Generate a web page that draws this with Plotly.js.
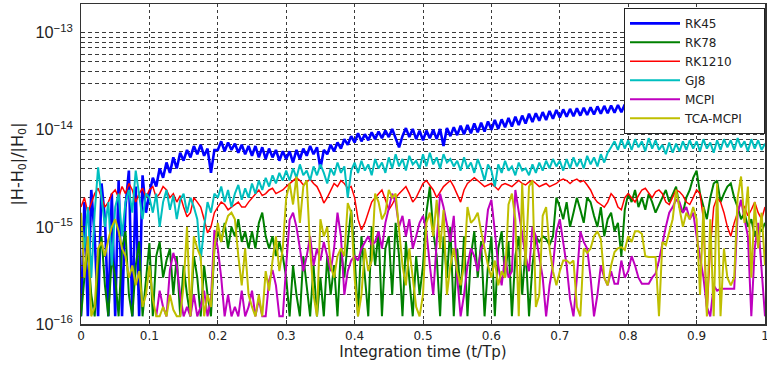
<!DOCTYPE html>
<html>
<head>
<meta charset="utf-8">
<script src="https://cdn.plot.ly/plotly-3.0.1.min.js"></script>
<style>html,body{margin:0;padding:0;background:#fff;}#chart{width:767px;height:368px;}</style>
</head>
<body>
<div id="chart"></div>
<script>
// Values are given in units of 1e-16 (relative energy error |H-H0|/|H0|)
const UNIT = 1e-16;
const X_START = 0;        // first sample (t/Tp)
const X_STEP = 0.005;     // sample spacing (t/Tp)
const MCPI_START = 0.11;  // MCPI series begins here

const seriesNames = ["RK45", "RK78", "RK1210", "GJ8", "MCPI", "TCA-MCPI"];

const rk45 = [
  1.2, 18, 1.2, 24, 8, 1.2, 28, 12, 1.2, 22,
  1.2, 30, 1.2, 16, 38, 1.2, 26, 1.2, 34, 14,
  22, 32, 26, 40, 32, 46, 36, 52, 40, 58,
  48, 62, 52, 68, 56, 70, 54, 64, 36, 62,
  62, 76, 60, 74, 62, 72, 58, 70, 56, 68,
  54, 68, 52, 66, 50, 64, 52, 62, 48, 60,
  50, 60, 46, 62, 50, 64, 54, 68, 56, 66,
  40, 62, 56, 70, 60, 74, 64, 80, 70, 86,
  74, 92, 76, 90, 78, 94, 80, 96, 82, 98,
  84, 102, 82, 66, 86, 104, 84, 102, 80, 98,
  78, 98, 82, 100, 80, 102, 68, 104, 86, 106,
  88, 110, 90, 112, 92, 116, 94, 118, 96, 122,
  100, 126, 102, 128, 106, 132, 108, 136, 112, 140,
  116, 146, 120, 148, 124, 152, 126, 156, 130, 160,
  134, 162, 136, 164, 138, 166, 140, 168, 142, 170,
  144, 174, 146, 176, 148, 178, 150, 180, 152, 182,
  154, 184, 156, 186, 158, 188, 160, 190, 162, 192,
  164, 194, 166, 196, 168, 198, 170, 200, 172, 202,
  174, 204, 176, 206, 178, 208, 180, 210, 182, 212,
  184, 214, 186, 216, 188, 218, 190, 220, 192, 222, 194
];

const rk78 = [
  1.2, 3, 6, 2, 1.2, 4, 8, 2.5, 1.2, 5,
  3, 1.2, 6, 9, 2, 1.2, 4, 7, 1.2, 3,
  6.8, 1.2, 5, 7, 3, 4.5, 6, 2, 5, 1.2,
  4, 2, 1.2, 5, 3, 1.2, 4, 2, 1.2, 6,
  9, 7, 11, 6, 10, 8, 12, 7, 9, 6,
  9, 6, 11, 14, 8, 6, 8, 5, 7, 5,
  3, 1.2, 4, 2, 1.2, 5, 2.5, 1.2, 4, 1.2,
  3, 1.2, 5, 2, 4, 1.2, 6, 3, 7, 15,
  5, 1.2, 8, 3, 1.2, 10, 4, 9, 1.2, 6,
  8, 2, 11, 5, 1.2, 7, 3, 1.2, 5, 2,
  4, 14, 26, 9, 5, 1.2, 8, 3, 10, 1.2,
  6, 2, 8, 1.2, 5, 9, 3, 7, 1.2, 4,
  8, 1.2, 6, 9, 3, 7, 1.2, 5, 8, 2,
  6, 1.2, 4, 8, 7, 8, 7.5, 6.5, 8, 20,
  16, 12, 18, 10, 14, 20, 15, 11, 20, 18,
  13, 10, 16, 8, 12, 14, 9, 11, 5, 15,
  22, 18, 24, 16, 20, 15, 22, 18, 14, 17,
  20, 24, 18, 22, 26, 16, 14, 20, 24, 32,
  38, 22, 16, 12, 20, 28, 30, 18, 22, 26,
  28, 20, 16, 12, 14, 10, 12, 8, 10, 9, 11
];

const rk1210 = [
  16, 20, 14, 18, 22, 25, 20, 16, 18, 22,
  24, 20, 26, 22, 28, 24, 18, 22, 25, 20,
  24, 26, 20, 22, 26, 24, 20, 22, 18, 21,
  16, 12.7, 14, 20, 18, 16, 12, 8.7, 10, 14,
  16, 18, 17, 15, 16, 17, 18, 16, 16, 18,
  20, 22, 24, 21, 22, 24, 25, 22, 23, 24,
  26, 28, 30, 32, 30, 27, 29, 31, 28, 26,
  22, 17.6, 20, 24, 28, 26, 30, 28, 25, 26,
  20, 12, 9.3, 11, 14, 18, 20, 22, 24, 19,
  15, 17, 20, 22, 24, 26, 22, 18, 20, 24,
  28, 30, 27, 24, 20, 23, 26, 28, 30, 26,
  22, 18, 24, 28, 30, 32, 30, 28, 26, 27,
  28, 26, 24, 27, 28, 27, 26, 28, 30, 28,
  27, 29, 30, 28, 26, 27, 28, 26, 27, 28,
  30, 31, 30, 28, 30, 31, 29, 30, 27, 24,
  20, 18, 17, 16, 18, 22, 20, 16, 15, 20,
  22, 20, 18, 21, 24, 25, 22, 20, 23, 24,
  22, 18, 17, 20, 24, 23, 21, 18, 17, 20,
  24, 22, 12, 1.2, 6, 16, 20, 18, 14, 10,
  8, 11, 14, 18, 16, 13, 15, 18, 14, 12, 16
];

const gj8 = [
  12, 6, 16, 3, 14, 41, 20, 10, 18, 4,
  16, 22, 8, 18, 24, 14, 38, 20, 12, 22,
  20, 14, 22, 10, 18, 24, 15, 21, 12, 19,
  22, 14, 20, 16, 12, 4.5, 10, 18, 14, 22,
  20, 26, 18, 24, 16, 22, 27, 19, 25, 20,
  28, 22, 30, 24, 32, 26, 34, 28, 36, 30,
  38, 30, 40, 32, 44, 34, 38, 30, 42, 34,
  44, 36, 28, 40, 34, 46, 36, 42, 20, 38,
  46, 36, 48, 38, 44, 34, 50, 40, 46, 36,
  52, 40, 56, 42, 50, 38, 54, 44, 48, 40,
  56, 42, 58, 44, 52, 40, 56, 46, 50, 42,
  48, 38, 52, 40, 46, 36, 50, 40, 30, 44,
  38, 26, 44, 36, 48, 38, 42, 34, 46, 38,
  40, 34, 44, 36, 46, 38, 48, 40, 50, 42,
  48, 38, 50, 40, 52, 42, 50, 40, 54, 44,
  52, 42, 56, 46, 58, 66, 76, 62, 80, 64,
  78, 62, 80, 66, 76, 60, 82, 64, 78, 62,
  70, 56, 74, 58, 72, 60, 76, 62, 78, 64,
  76, 60, 80, 64, 74, 58, 78, 62, 80, 66,
  78, 62, 82, 66, 76, 60, 80, 64, 78, 62, 72
];

const mcpi = [
  1.2, 2.2, 1.5, 1.2, 3.6, 5.4, 4, 2, 1.2, 1.5,
  1.2, 2, 1.2, 1.5, 2.2, 1.2, 1.8, 9.3, 6, 3,
  1.2, 2, 1.2, 1.5, 1.2, 2.2, 1.2, 1.5, 2.2, 1.2,
  1.8, 1.2, 1.2, 2.8, 3.6, 2.5, 1.2, 1.2, 4, 11.8,
  14, 10, 6, 3.5, 5, 8, 4, 6, 4.5, 7,
  5, 3.5, 6, 14, 8, 2, 3.5, 4.5, 5, 4.5,
  6, 7, 8, 6.5, 7, 9, 6, 11, 16, 22,
  18, 10, 13, 8, 12, 6, 8, 11, 13, 9,
  4, 2, 7, 22, 16, 11, 7, 13, 3, 1.2,
  2, 4, 6, 5, 3.5, 6, 7, 15, 19, 9,
  4, 2.5, 5, 3, 3.5, 24, 14, 8, 5, 3.5,
  10, 8, 5, 3, 1.2, 2.5, 4, 9, 12, 7,
  4, 1.8, 1.2, 3, 9, 7, 6, 3, 1.2, 2,
  4, 3, 2.5, 3.5, 2.6, 2.6, 4.5, 3, 3.5, 5,
  4, 3, 2.6, 2.6, 2.6, 3, 3.3, 4.5, 6.8, 10,
  14, 16, 19, 18, 14, 16, 12, 14, 8, 5,
  3, 1.5, 1.2, 2.5, 2.2, 2.3, 2.3, 2.3, 2.3, 2.3,
  14, 19, 12, 8, 1.2, 6, 11, 4, 1.2
];

const tcaMcpi = [
  14, 3, 8, 1.2, 1.5, 6, 7, 5, 7.4, 10,
  12, 9, 6, 5, 3, 4, 2.5, 3.5, 1.5, 2,
  4, 1.8, 1.2, 1.2, 1.5, 1.2, 2, 1.4, 1.2, 1.2,
  2.5, 10, 1.2, 8, 6, 4.9, 1.2, 2, 1.5, 6,
  11, 7, 10, 13, 14, 12, 5, 2.5, 6, 2,
  1.5, 1.2, 2, 1.2, 3.5, 2.2, 4.5, 8, 3.5, 6,
  20, 28, 17, 33, 11, 26, 30, 6, 2, 1.2,
  12, 8, 10, 4, 3, 5, 6, 5, 17.6, 14,
  3, 1.2, 2, 6, 3.5, 4.5, 22, 18, 12, 14,
  24, 20, 22, 10, 4, 2.5, 6, 3, 1.5, 1.2,
  2, 11, 14, 8, 19, 6, 15, 2, 4, 6,
  3.5, 2.5, 4, 16, 11, 12, 14, 9, 6, 4,
  3, 4.5, 2.5, 3.5, 3, 17, 22, 12, 1.2, 28,
  4, 26, 30, 1.5, 2, 13, 16, 6, 3.5, 2.5,
  3.5, 4.5, 4.5, 4.2, 4.5, 1.5, 1.2, 6, 5.4, 6,
  8, 9, 7.5, 3, 2.5, 4, 5.5, 6, 6.2, 5.8,
  8, 7, 9, 9, 8.5, 5, 4.9, 4.9, 4.9, 1.2,
  7, 6.5, 9, 12, 24, 16, 10, 14, 12, 16,
  12, 2, 16, 1.2, 12, 1.2, 28, 1.2, 6, 3,
  2.5, 3, 20, 33, 11, 26, 3, 18, 6, 14, 4
];

const colors = ["#0000FF", "#008000", "#FF0000", "#00BFBF", "#BF00BF", "#BFBF00"];
const widths = [2.6, 2, 1.5, 2, 2, 2];
const allSeries = [rk45, rk78, rk1210, gj8, mcpi, tcaMcpi];
const starts = [X_START, X_START, X_START, X_START, MCPI_START, X_START];
const LEGEND_PAD = "\u00a0\u00a0\u00a0\u00a0"; // right padding inside the legend box

const traces = allSeries.map((vals, i) => ({
  type: "scatter",
  mode: "lines",
  name: seriesNames[i] + (i === seriesNames.length - 1 ? LEGEND_PAD : ""),
  x0: starts[i],
  dx: X_STEP,
  y: vals.map(v => v * UNIT),
  line: { color: colors[i], width: widths[i] }
}));

const FONT = "DejaVu Sans, Liberation Sans, sans-serif";
const GRID = "#3a3a3a";

const layout = {
  width: 767,
  height: 368,
  margin: { l: 81, r: 2, t: 4, b: 44 },
  paper_bgcolor: "#fff",
  plot_bgcolor: "#fff",
  font: { family: FONT, size: 12, color: "#222" },
  showlegend: true,
  legend: {
    x: 1.0, y: 0.988, xanchor: "right", yanchor: "top",
    bgcolor: "#fff", bordercolor: "#222", borderwidth: 1,
    font: { family: FONT, size: 12, color: "#222" },
    itemwidth: 50,
    tracegroupgap: 0
  },
  xaxis: {
    range: [0, 1],
    tick0: 0, dtick: 0.1,
    ticks: "inside", ticklen: 4, tickcolor: "#333",
    ticklabeloverflow: "allow",
    showgrid: true, gridcolor: GRID, gridwidth: 1, griddash: "dot",
    zeroline: false,
    showline: true, mirror: true, linecolor: "#333", linewidth: 1.5,
    tickfont: { family: FONT, size: 12, color: "#222" },
    title: { text: "Integration time (t/Tp)", font: { family: FONT, size: 15, color: "#222" }, standoff: 4 }
  },
  yaxis: {
    type: "log",
    range: [-16, -12.705],
    dtick: 1,
    exponentformat: "power",
    ticks: "inside", ticklen: 4, tickcolor: "#333",
    showgrid: true, gridcolor: GRID, gridwidth: 1, griddash: "4px,3px",
    minor: {
      dtick: "D1",
      ticks: "inside", ticklen: 2, tickcolor: "#333",
      showgrid: true, gridcolor: GRID, gridwidth: 1, griddash: "4px,3px"
    },
    zeroline: false,
    showline: true, mirror: true, linecolor: "#333", linewidth: 1.5,
    ticklabelstandoff: 4,
    tickfont: { family: "Liberation Sans, Arial, sans-serif", size: 13, color: "#222" },
    title: { text: "|H-H<sub>0</sub>|/|H<sub>0</sub>|", font: { family: FONT, size: 16, color: "#222" }, standoff: 8 }
  }
};

Plotly.newPlot("chart", traces, layout, { displayModeBar: false, staticPlot: true });
</script>
</body>
</html>
